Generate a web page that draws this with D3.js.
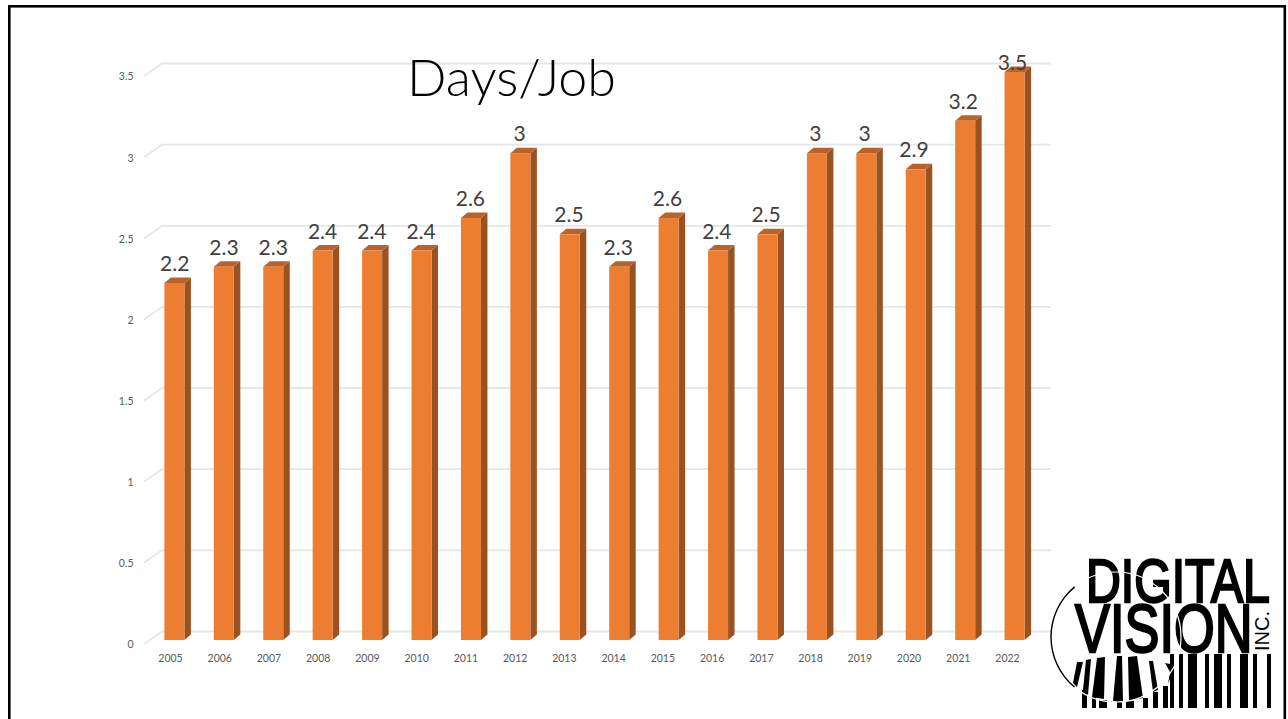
<!DOCTYPE html>
<html>
<head>
    <meta charset="utf-8">
    <script src="https://d3js.org/d3.v7.min.js"></script>
    <style>
        html, body { margin: 0; padding: 0; background: #fff; overflow: hidden; }
        svg { display: block; }
        text { font-family: Lato, "Open Sans", sans-serif; }
    </style>
</head>
<body>
    <svg width="1288" height="719"></svg>

    <script>
        var years = ["2005", "2006", "2007", "2008", "2009", "2010", "2011", "2012", "2013",
            "2014", "2015", "2016", "2017", "2018", "2019", "2020", "2021", "2022"];
        var daysPerJob = [2.2, 2.3, 2.3, 2.4, 2.4, 2.4, 2.6, 3, 2.5, 2.3, 2.6, 2.4, 2.5, 3, 3, 2.9, 3.2, 3.5];
        var yTicks = [0, 0.5, 1, 1.5, 2, 2.5, 3, 3.5];

        var DEPTH_X = 6.5,
            DEPTH_Y = 5.5;

        var svg = d3.select("svg");

        // slide frame, runs off the bottom of the picture
        svg.append("rect")
            .attr("x", 9.3)
            .attr("y", 6.3)
            .attr("width", 1275.5)
            .attr("height", 760)
            .attr("fill", "#fff")
            .attr("stroke", "#000")
            .attr("stroke-width", 2.6);

        var x = d3.scaleBand()
            .domain(years)
            .range([164.4, 1024.6])
            .paddingInner(0.595)
            .paddingOuter(0);

        // the tick and value labels sit on a slightly tighter spacing than the bars
        var xTickPos = d3.scalePoint().domain(years).range([170, 1007]);
        var xValuePos = d3.scalePoint().domain(years).range([174.7, 1012.5]);

        var y = d3.scaleLinear()
            .domain([0, 3.5])
            .range([640, 72]);

        // gridlines on the back wall, with the little slanted bit on the floor side
        var grid = svg.append("g").attr("class", "grid");
        grid.selectAll("path")
            .data(yTicks)
            .enter().append("path")
            .attr("d", function(d) {
                var yBack = y(d) - 8.5;
                return "M144," + (y(d) + 4) + "L162," + yBack + "H1051";
            })
            .attr("fill", "none")
            .attr("stroke", "#e6e6e6")
            .attr("stroke-width", 1.8);

        // y axis, d3 axis with the lines taken out
        var yAxis = svg.append("g")
            .attr("transform", "translate(133.5,4.5)")
            .call(d3.axisLeft(y).tickValues(yTicks).tickSize(0).tickPadding(0).tickFormat(d3.format("")));
        yAxis.select(".domain").remove();
        yAxis.selectAll("text")
            .attr("font-size", 10.5)
            .style("font-family", "Lato, sans-serif")
            .attr("fill", "#595959");

        var xAxis = svg.append("g")
            .attr("transform", "translate(0,655)")
            .call(d3.axisBottom(xTickPos).tickSize(0).tickPadding(0));
        xAxis.select(".domain").remove();
        xAxis.selectAll("text")
            .attr("font-size", 10.5)
            .style("font-family", "Lato, sans-serif")
            .attr("fill", "#595959");

        // 3d bars
        var bars = svg.append("g")
            .attr("class", "bars")
            .selectAll("g")
            .data(daysPerJob)
            .enter().append("g");

        bars.append("path")
            .attr("fill", "#9a5320")
            .attr("d", function(d, i) {
                var r = x(years[i]) + x.bandwidth();
                return "M" + r + "," + y(d) + "l" + DEPTH_X + "," + (-DEPTH_Y) +
                    "V" + (y(0) - DEPTH_Y) + "l" + (-DEPTH_X) + "," + DEPTH_Y + "Z";
            });

        bars.append("path")
            .attr("fill", "#b9622a")
            .attr("d", function(d, i) {
                var l = x(years[i]);
                return "M" + l + "," + y(d) + "l" + DEPTH_X + "," + (-DEPTH_Y) +
                    "h" + x.bandwidth() + "l" + (-DEPTH_X) + "," + DEPTH_Y + "Z";
            });

        bars.append("rect")
            .attr("fill", "#ed7d31")
            .attr("x", function(d, i) { return x(years[i]); })
            .attr("y", function(d) { return y(d); })
            .attr("width", x.bandwidth())
            .attr("height", function(d) { return y(0) - y(d); });

        // the tallest label can't go higher so it runs into its own bar
        bars.append("text")
            .attr("x", function(d, i) { return xValuePos(years[i]); })
            .attr("y", function(d) { return Math.max(y(d) - 12, 70); })
            .attr("text-anchor", "middle")
            .attr("font-size", 21)
            .attr("fill", "#404040")
            .text(function(d) { return d; });

        svg.append("text")
            .attr("x", 407)
            .attr("y", 96)
            .attr("font-size", 52)
            .attr("font-weight", 300)
            .attr("fill", "#000")
            .text("Days/Job");

        // logo
        var logo = svg.append("g").attr("class", "logo");

        var codeBars = [[1170, 4], [1179, 4], [1188, 9], [1205, 4], [1214, 8], [1227, 4], [1240, 8], [1253, 4], [1267, 4]];
        var codeStubs = [[1082, 5, 690], [1092, 4, 697], [1099, 8, 700], [1117, 5, 701], [1126, 8, 701], [1143, 5, 698], [1153, 5, 692], [1163, 5, 686]];
        var lensBars = [
            [[1077, 662], [1083, 662], [1077, 687], [1073, 683]],
            [[1086, 660], [1091, 659], [1088, 695], [1083, 690]],
            [[1097, 658], [1105, 657], [1104, 699], [1092, 697]],
            [[1117, 656], [1122, 656], [1123, 702], [1113, 701]],
            [[1128, 657], [1137, 656], [1143, 698], [1129, 701]],
            [[1149, 661], [1153, 661], [1158, 690], [1153, 692]],
            [[1165, 663], [1175, 665], [1168, 684], [1170, 672]]
        ];

        logo.selectAll("rect.code")
            .data(codeBars)
            .enter().append("rect")
            .attr("class", "code")
            .attr("x", function(d) { return d[0]; })
            .attr("y", 654)
            .attr("width", function(d) { return d[1]; })
            .attr("height", 54);

        logo.selectAll("rect.stub")
            .data(codeStubs)
            .enter().append("rect")
            .attr("class", "stub")
            .attr("x", function(d) { return d[0]; })
            .attr("y", function(d) { return d[2]; })
            .attr("width", function(d) { return d[1]; })
            .attr("height", function(d) { return 708 - d[2]; });

        logo.selectAll("polygon")
            .data(lensBars)
            .enter().append("polygon")
            .attr("points", function(d) { return d.join(" "); });

        // squeezed with a transform, Liberation is wider than the logo lettering
        logo.append("text")
            .attr("transform", "translate(1086,602) scale(0.79,1)")
            .attr("font-size", 61)
            .attr("stroke", "#000")
            .attr("stroke-width", 2.4)
            .style("font-family", "'Liberation Sans', sans-serif")
            .text("DIGITAL");

        logo.append("text")
            .attr("transform", "translate(1075,652) scale(0.77,1)")
            .attr("font-size", 68)
            .attr("stroke", "#000")
            .attr("stroke-width", 2.4)
            .style("font-family", "'Liberation Sans', sans-serif")
            .text("VISION");

        logo.append("text")
            .attr("transform", "translate(1269,651) rotate(-90)")
            .attr("font-size", 20)
            .style("font-family", "'Liberation Sans', sans-serif")
            .text("INC.");

        // round lens, white where it cuts the lettering, black on the left
        logo.append("circle")
            .attr("cx", 1116)
            .attr("cy", 637)
            .attr("r", 65)
            .attr("fill", "none")
            .attr("stroke", "#fff")
            .attr("stroke-width", 1.2);
        logo.append("path")
            .attr("d", d3.arc()({ innerRadius: 64.3, outerRadius: 65.7, startAngle: -2.45, endAngle: -0.69 }))
            .attr("transform", "translate(1116,637)");
    </script>
</body>
</html>
